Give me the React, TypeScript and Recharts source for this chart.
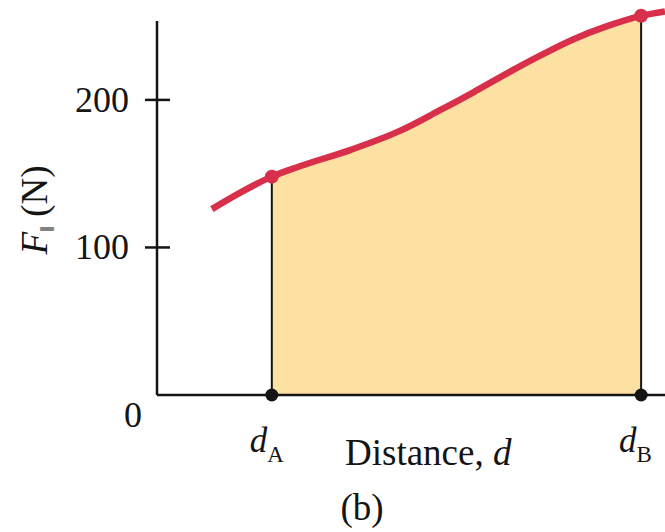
import React from 'react';
import {
  ComposedChart,
  Line,
  Area,
  XAxis,
  YAxis,
  ReferenceLine,
  ReferenceDot,
  Label,
} from 'recharts';

// Force parallel to the path, sampled along the distance
const distance = [10.8, 16.3, 22.6, 28.1, 38.0, 47.8, 55.7, 62.2, 68.9, 75.4, 81.9, 88.6, 95.3, 100];
const force = [126, 137, 148, 155, 166, 179, 193, 205, 218, 230, 241, 250, 257, 260];

// Start and end of the interval
const dA = 22.6;
const dB = 95.3;
const xTickNames: Record<string, string> = { [String(dA)]: 'A', [String(dB)]: 'B' };

const yTicks = [0, 100, 200];
const yAxisTop = 253.5;

const curve = distance.map((d, i) => ({ d, F: force[i] }));
const work = curve.filter((p) => p.d >= dA && p.d <= dB);
const forceAt = (d: number) => (curve.find((p) => p.d === d) as { F: number }).F;

const FONT = '"Liberation Serif", "Times New Roman", Times, serif';
const RED = '#D8304B';
const FILL = '#FDE1A3';
const INK = '#141414';

const YTick = (props: any) => {
  const { x, y, payload } = props;
  const zero = payload.value === 0;
  return (
    <g>
      {!zero && <line x1={x - 12} x2={x + 13} y1={y} y2={y} stroke={INK} strokeWidth={2.5} />}
      <text
        x={zero ? x - 15 : x - 28}
        y={zero ? y + 32 : y + 12}
        textAnchor="end"
        fontFamily={FONT}
        fontSize={36}
        fill={INK}
      >
        {payload.value}
      </text>
    </g>
  );
};

const XTick = (props: any) => {
  const { x, y, payload } = props;
  return (
    <text x={x - 22} y={y + 57} fontFamily={FONT} fontSize={35} fill={INK}>
      <tspan fontStyle="italic">d</tspan>
      <tspan fontSize={23} dy={10}>
        {xTickNames[String(payload.value)]}
      </tspan>
    </text>
  );
};

const XTitle = (props: any) => {
  const { viewBox } = props;
  const { x, y } = viewBox;
  return (
    <g fontFamily={FONT} fill={INK}>
      <text x={x + 188} y={y + 70} fontSize={37}>
        Distance, <tspan fontStyle="italic">d</tspan>
      </text>
      <text x={x + 205} y={y + 125} fontSize={37} textAnchor="middle">
        (b)
      </text>
    </g>
  );
};

const YTitle = () => (
  <text
    x={47}
    y={210}
    transform="rotate(-90 47 210)"
    textAnchor="middle"
    fontFamily={FONT}
    fontSize={37}
    fill={INK}
  >
    <tspan fontStyle="italic">F</tspan>
    <tspan fontSize={21} dy={7}>
      ‖
    </tspan>
    <tspan dy={-7}> (N)</tspan>
  </text>
);

export default function App() {
  return (
    <div style={{ position: 'absolute', left: 0, top: 0, width: 665, height: 532, background: '#fff' }}>
      <ComposedChart
        width={665}
        height={532}
        data={curve}
        margin={{ top: 4, right: 0, bottom: 0, left: 0 }}
      >
        <XAxis
          dataKey="d"
          type="number"
          domain={[0, 100]}
          ticks={[dA, dB]}
          tick={<XTick />}
          tickLine={false}
          tickSize={0}
          tickMargin={0}
          height={137}
          axisLine={{ stroke: INK, strokeWidth: 2.5 }}
          interval={0}
        >
          <Label content={<XTitle />} />
        </XAxis>
        <YAxis
          type="number"
          domain={[0, 265]}
          ticks={yTicks}
          tick={<YTick />}
          tickLine={false}
          tickSize={0}
          tickMargin={0}
          axisLine={false}
          width={157}
          interval={0}
        >
          <Label content={<YTitle />} />
        </YAxis>
        <Area
          data={work}
          dataKey="F"
          type="monotone"
          fill={FILL}
          fillOpacity={1}
          stroke="none"
          isAnimationActive={false}
          activeDot={false}
        />
        <ReferenceLine
          segment={[{ x: 0, y: 0 }, { x: 0, y: yAxisTop }]}
          stroke={INK}
          strokeWidth={2.5}
          ifOverflow="visible"
        />
        <ReferenceLine
          segment={[{ x: dA, y: 0 }, { x: dA, y: forceAt(dA) }]}
          stroke={INK}
          strokeWidth={2}
          ifOverflow="visible"
        />
        <ReferenceLine
          segment={[{ x: dB, y: 0 }, { x: dB, y: forceAt(dB) }]}
          stroke={INK}
          strokeWidth={2}
          ifOverflow="visible"
        />
        <Line
          dataKey="F"
          type="monotone"
          stroke={RED}
          strokeWidth={6.5}
          strokeLinecap="butt"
          dot={false}
          activeDot={false}
          isAnimationActive={false}
        />
        <ReferenceDot x={dA} y={forceAt(dA)} r={7} fill={RED} stroke="none" ifOverflow="visible" />
        <ReferenceDot x={dB} y={forceAt(dB)} r={7} fill={RED} stroke="none" ifOverflow="visible" />
        <ReferenceDot x={dA} y={0} r={6.5} fill={INK} stroke="none" ifOverflow="visible" />
        <ReferenceDot x={dB} y={0} r={6.5} fill={INK} stroke="none" ifOverflow="visible" />
      </ComposedChart>
    </div>
  );
}
